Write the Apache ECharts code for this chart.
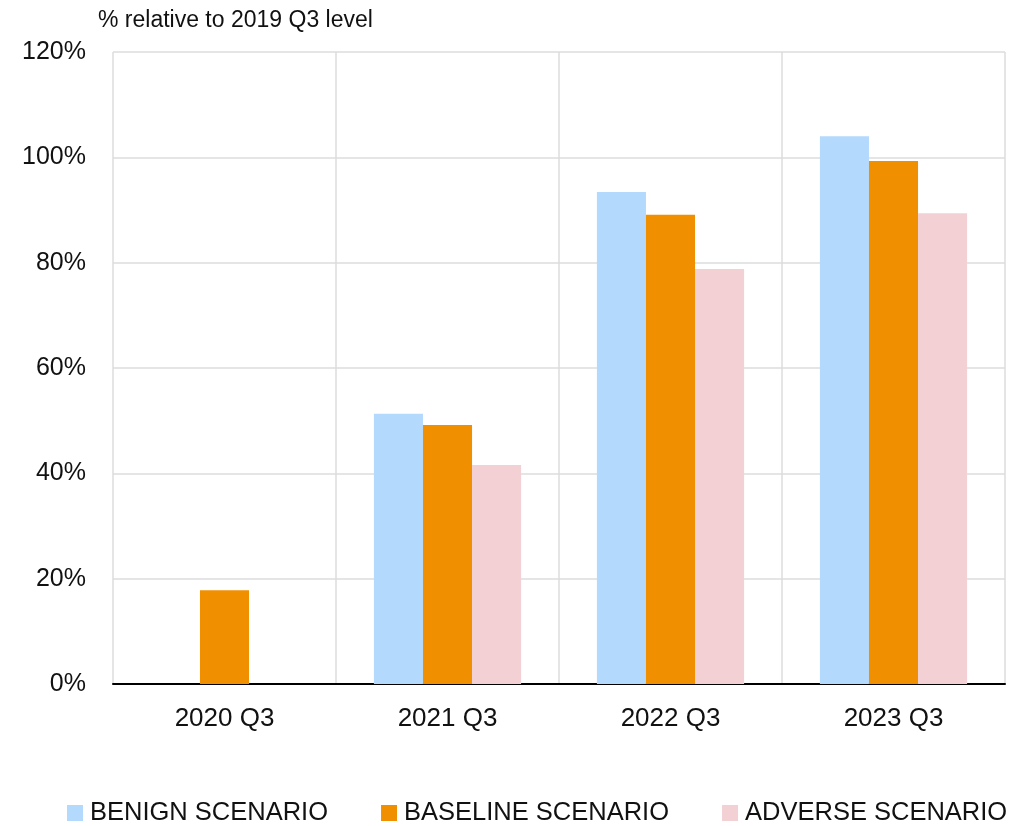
<!DOCTYPE html>
<html><head><meta charset="utf-8">
<script src="https://cdn.jsdelivr.net/npm/echarts@6/dist/echarts.min.js"></script>
<style>html,body{margin:0;padding:0;background:#fff}#c{width:1015px;height:826px}</style>
</head><body><div id="c"></div>
<script>
const categories = ['2020 Q3', '2021 Q3', '2022 Q3', '2023 Q3'];
const benign = [null, 51.3, 93.4, 104.0];
const baseline = [17.8, 49.2, 89.1, 99.3];
const adverse = [null, 41.6, 78.8, 89.4];
const seriesNames = ['BENIGN SCENARIO', 'BASELINE SCENARIO', 'ADVERSE SCENARIO'];
const colors = ['#b3d9fd', '#f09000', '#f2d0d4'];
const yTitle = '% relative to 2019 Q3 level';

const font = '"Liberation Sans", Arial, sans-serif';
const chart = echarts.init(document.getElementById('c'), null, {renderer: 'canvas'});
const dataArr = [benign, baseline, adverse];
chart.setOption({
  animation: false,
  textStyle: {fontFamily: font},
  title: {text: yTitle, left: 93, top: 4, textStyle: {fontFamily: font, fontSize: 23, fontWeight: 'normal', color: '#111'}},
  legend: {
    top: 795, left: 62, itemWidth: 16, itemHeight: 16, itemGap: 53, icon: 'rect',
    textStyle: {fontFamily: font, fontSize: 25.5, color: '#111', padding: [0,0,0,2]},
    data: seriesNames
  },
  grid: {left: 113, right: 10, top: 52, bottom: 142},
  xAxis: {
    type: 'category', data: categories,
    axisLine: {lineStyle: {color: '#000', width: 2}},
    axisTick: {show: false},
    axisLabel: {fontFamily: font, fontSize: 26, color: '#111', margin: 22},
    splitLine: {show: true, lineStyle: {color: '#dcdcdc', width: 1.5}}
  },
  yAxis: {
    type: 'value', min: 0, max: 120, interval: 20,
    axisLine: {show: false}, axisTick: {show: false},
    axisLabel: {formatter: '{value}%', fontFamily: font, fontSize: 25, color: '#111', margin: 27},
    splitLine: {lineStyle: {color: '#dcdcdc', width: 1.5}}
  },
  series: seriesNames.map((n, i) => ({
    name: n, type: 'bar', data: dataArr[i], barGap: '0%', barCategoryGap: '34%',
    itemStyle: {color: colors[i]}
  }))
});
</script></body></html>
